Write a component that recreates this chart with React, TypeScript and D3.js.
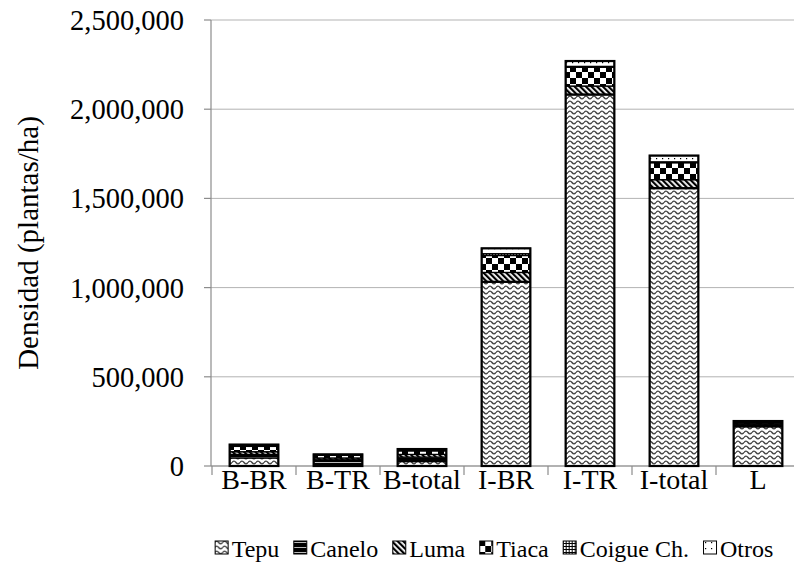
import * as d3 from "d3";
import { useMemo } from "react";

// data (plantas/ha)
const categories = ["B-BR", "B-TR", "B-total", "I-BR", "I-TR", "I-total", "L"];
const species = ["Tepu", "Canelo", "Luma", "Tiaca", "Coigue Ch.", "Otros"];
const tepu = [45000, 5000, 25000, 1030000, 2080000, 1555000, 220000];
const canelo = [20000, 30000, 25000, 5000, 5000, 5000, 15000];
const luma = [15000, 10000, 15000, 50000, 45000, 45000, 5000];
const tiaca = [30000, 15000, 20000, 95000, 105000, 95000, 5000];
const coigue = [5000, 0, 5000, 10000, 5000, 5000, 2000];
const otros = [5000, 5000, 5000, 30000, 30000, 35000, 5000];
const yTicks = [0, 500000, 1000000, 1500000, 2000000, 2500000];

const W = 794;
const H = 575;
const serif = "'Liberation Serif', 'Times New Roman', serif";

const measure = (txt: string, size: number) => {
  const c = document.createElement("canvas").getContext("2d");
  if (!c) return txt.length * size * 0.5;
  c.font = `${size}px 'Liberation Serif'`;
  return c.measureText(txt).width;
};

const Patterns = () => (
  <defs>
    <pattern id="pat-0" width={8} height={5} patternUnits="userSpaceOnUse">
      <rect width={8} height={5} fill="white" />
      <path d="M0,2.5 Q2,-0.3 4,2.5 Q6,5.3 8,2.5" fill="none" stroke="#444" strokeWidth={1.4} />
    </pattern>
    <pattern id="pat-1" width={5} height={5} patternUnits="userSpaceOnUse">
      <rect width={5} height={5} fill="black" />
      <line x1={0} x2={5} y1={2.5} y2={2.5} stroke="#bbb" strokeWidth={1} />
    </pattern>
    <pattern id="pat-2" width={4} height={4} patternUnits="userSpaceOnUse" patternTransform="rotate(-45)">
      <rect width={4} height={4} fill="white" />
      <rect width={2.2} height={4} fill="black" />
    </pattern>
    <pattern id="pat-3" width={12} height={12} patternUnits="userSpaceOnUse">
      <rect width={12} height={12} fill="white" />
      <rect width={6} height={6} fill="black" />
      <rect x={6} y={6} width={6} height={6} fill="black" />
    </pattern>
    <pattern id="pat-4" width={3} height={3} patternUnits="userSpaceOnUse">
      <rect width={3} height={3} fill="white" />
      <path d="M0,0.5 H3 M0.5,0 V3" stroke="black" strokeWidth={1} />
    </pattern>
    <pattern id="pat-5" width={6} height={6} patternUnits="userSpaceOnUse">
      <rect width={6} height={6} fill="white" />
      <rect x={2} y={2} width={1.2} height={1.2} fill="black" />
    </pattern>
  </defs>
);

export default function App() {
  const rows = categories.map((c, i) => ({
    cat: c,
    Tepu: tepu[i],
    Canelo: canelo[i],
    Luma: luma[i],
    Tiaca: tiaca[i],
    "Coigue Ch.": coigue[i],
    Otros: otros[i],
  }));

  const stacked = d3.stack<any>().keys(species)(rows);

  const x = d3
    .scaleBand()
    .domain(categories)
    .range([212, 800])
    .paddingInner(0.42)
    .paddingOuter(0.21);
  const y = d3.scaleLinear().domain([0, 2500000]).range([466, 20]);
  const fmt = d3.format(",");

  const legend = useMemo(() => {
    const box = 14, gap = 3, space = 14, fs = 24;
    const widths = species.map((s) => box + gap + measure(s, fs));
    const total = d3.sum(widths) + space * (species.length - 1);
    let cx = 494 - total / 2;
    return species.map((s, i) => {
      const item = { s, i, x: cx };
      cx += widths[i] + space;
      return item;
    });
  }, []);

  const step = x.step();

  return (
    <div style={{ position: "absolute", left: 0, top: 0 }}>
      <svg width={W} height={H} style={{ display: "block", background: "white" }}>
        <Patterns />
        {/* gridlines */}
        {yTicks.map((t) => (
          <line key={"g" + t} x1={211} x2={W} y1={y(t)} y2={y(t)} stroke="#b3b3b3" strokeWidth={1} />
        ))}
        {/* y axis */}
        <line x1={211} x2={211} y1={y(2500000)} y2={y(0)} stroke="#8c8c8c" strokeWidth={1.2} />
        {yTicks.map((t) => (
          <g key={"t" + t}>
            <line x1={204} x2={211} y1={y(t)} y2={y(t)} stroke="#8c8c8c" strokeWidth={1.2} />
            <text x={184} y={y(t)} dy="0.35em" textAnchor="end" fontFamily={serif} fontSize={28.5} fill="#000">
              {fmt(t)}
            </text>
          </g>
        ))}
        {/* x axis */}
        <line x1={211} x2={W} y1={y(0)} y2={y(0)} stroke="#8c8c8c" strokeWidth={1.2} />
        {categories.map((c, i) => (
          <line
            key={"xt" + c}
            x1={212 + step * i}
            x2={212 + step * i}
            y1={y(0)}
            y2={y(0) + 9}
            stroke="#8c8c8c"
            strokeWidth={1.2}
          />
        ))}
        {categories.map((c) => (
          <text
            key={"xl" + c}
            x={(x(c) ?? 0) + x.bandwidth() / 2}
            y={489}
            textAnchor="middle"
            fontFamily={serif}
            fontSize={28}
          >
            {c}
          </text>
        ))}
        {/* bars */}
        {stacked.map((layer, k) =>
          layer.map((d: any) => {
            const h = y(d[0]) - y(d[1]);
            if (h <= 0) return null;
            return (
              <rect
                key={layer.key + d.data.cat}
                x={x(d.data.cat)}
                y={y(d[1])}
                width={x.bandwidth()}
                height={h}
                fill={`url(#pat-${k})`}
                stroke="black"
                strokeWidth={1.3}
              />
            );
          })
        )}
        {rows.map((r) => {
          const tot = species.reduce((s, k) => s + (r as any)[k], 0);
          return (
            <rect
              key={"frame" + r.cat}
              x={x(r.cat)}
              y={y(tot)}
              width={x.bandwidth()}
              height={y(0) - y(tot)}
              fill="none"
              stroke="black"
              strokeWidth={2.2}
            />
          );
        })}
        {/* y title */}
        <text
          transform={`translate(38,243) rotate(-90)`}
          textAnchor="middle"
          fontFamily={serif}
          fontSize={29}
        >
          Densidad (plantas/ha)
        </text>
        {/* legend */}
        {legend.map((l) => (
          <g key={"lg" + l.s} transform={`translate(${l.x},0)`}>
            <rect x={0.5} y={541} width={13} height={13} fill={`url(#pat-${l.i})`} stroke="black" strokeWidth={1} />
            <text x={17} y={557} fontFamily={serif} fontSize={24}>
              {l.s}
            </text>
          </g>
        ))}
      </svg>
    </div>
  );
}
